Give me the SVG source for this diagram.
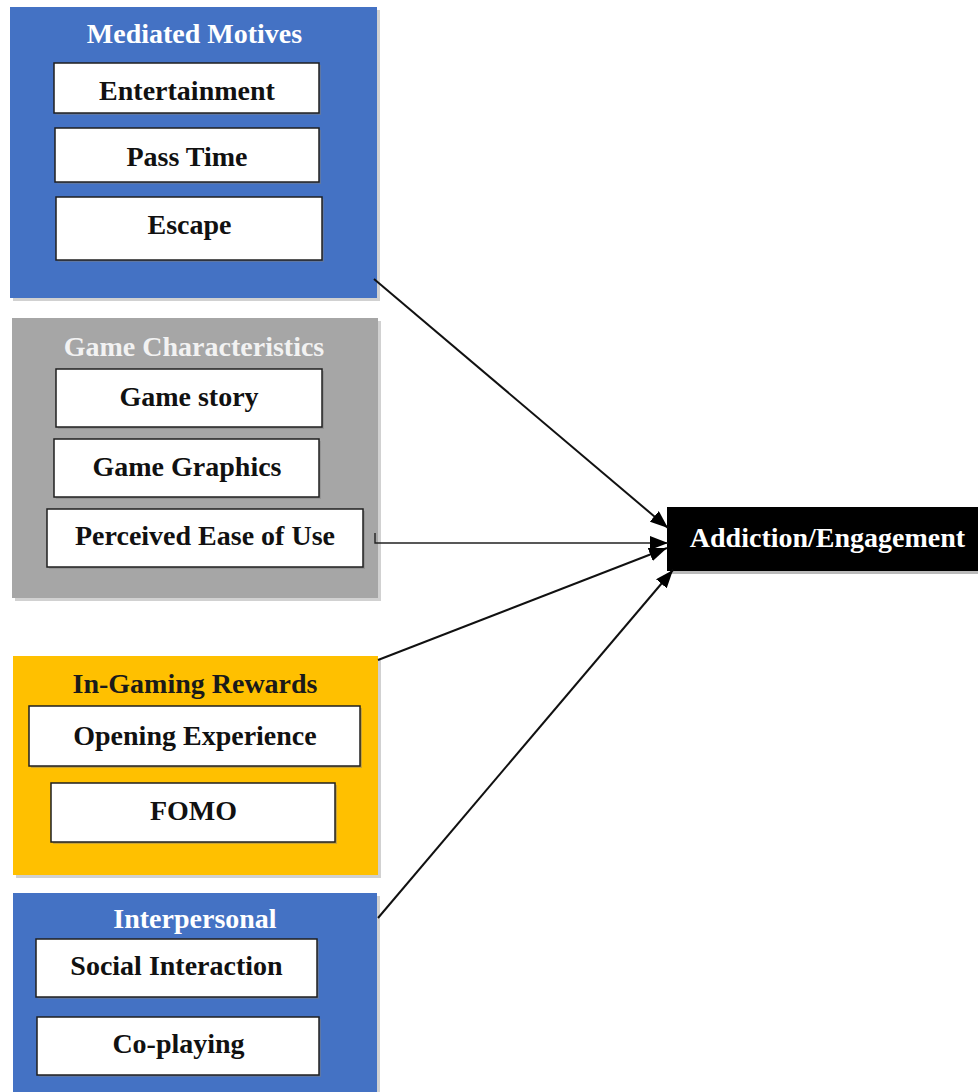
<svg xmlns="http://www.w3.org/2000/svg" width="978" height="1092" viewBox="0 0 978 1092">
  <style>
    text { font-family: "Liberation Serif", "Times New Roman", serif; font-weight: bold; font-size: 28px; text-anchor: middle; }
    .title-light { fill: #ffffff; }
    .title-grey { fill: #f2f2f2; }
    .title-dark { fill: #1a1a1a; }
    .label { fill: #111111; }
    .item { fill: #ffffff; stroke: #1f1f1f; stroke-width: 1.5; }
    .item-shadow { fill: #7f7f7f; opacity: 0.45; }
    .panel-shadow { fill: #9a9a9a; opacity: 0.45; }
    .blue { fill: #4472c4; }
    .grey { fill: #a6a6a6; }
    .gold { fill: #ffc000; }
    .link { fill: none; stroke: #111111; stroke-width: 2; }
    .link-thin { fill: none; stroke: #222222; stroke-width: 1.4; }
  </style>
  <defs>
    <marker id="arrow" viewBox="0 0 18 14" refX="18" refY="7" markerWidth="18" markerHeight="14" markerUnits="userSpaceOnUse" orient="auto">
      <path d="M0,0 L18,7 L0,14 Z" fill="#000000"/>
    </marker>
  </defs>

  <rect width="978" height="1092" fill="#ffffff"/>

  <!-- Mediated Motives -->
  <g id="mediated-motives">
    <rect class="panel-shadow" x="13" y="10" width="367" height="291"/>
    <rect class="blue" x="10" y="7" width="367" height="291"/>
    <text class="title-light" x="194.5" y="43">Mediated Motives</text>
    <g id="entertainment">
      <rect class="item-shadow" x="56" y="65" width="265" height="50"/>
      <rect class="item" x="54" y="63" width="265" height="50"/>
      <text class="label" x="187" y="100">Entertainment</text>
    </g>
    <g id="pass-time">
      <rect class="item-shadow" x="57" y="130" width="264" height="54"/>
      <rect class="item" x="55" y="128" width="264" height="54"/>
      <text class="label" x="187" y="166">Pass Time</text>
    </g>
    <g id="escape">
      <rect class="item-shadow" x="58" y="199" width="266" height="63"/>
      <rect class="item" x="56" y="197" width="266" height="63"/>
      <text class="label" x="189.5" y="234">Escape</text>
    </g>
  </g>

  <!-- Game Characteristics -->
  <g id="game-characteristics">
    <rect class="panel-shadow" x="15" y="321" width="366" height="280"/>
    <rect class="grey" x="12" y="318" width="366" height="280"/>
    <text class="title-grey" x="194" y="356">Game Characteristics</text>
    <g id="game-story">
      <rect class="item-shadow" x="58" y="371" width="266" height="58"/>
      <rect class="item" x="56" y="369" width="266" height="58"/>
      <text class="label" x="189" y="406">Game story</text>
    </g>
    <g id="game-graphics">
      <rect class="item-shadow" x="56" y="441" width="265" height="58"/>
      <rect class="item" x="54" y="439" width="265" height="58"/>
      <text class="label" x="187" y="476">Game Graphics</text>
    </g>
    <g id="perceived-ease-of-use">
      <rect class="item-shadow" x="49" y="511" width="316" height="58"/>
      <rect class="item" x="47" y="509" width="316" height="58"/>
      <text class="label" x="205" y="545">Perceived Ease of Use</text>
    </g>
  </g>

  <!-- In-Gaming Rewards -->
  <g id="in-gaming-rewards">
    <rect class="panel-shadow" x="16" y="659" width="365" height="219"/>
    <rect class="gold" x="13" y="656" width="365" height="219"/>
    <text class="title-dark" x="195" y="693">In-Gaming Rewards</text>
    <g id="opening-experience">
      <rect class="item-shadow" x="31" y="708" width="331" height="60"/>
      <rect class="item" x="29" y="706" width="331" height="60"/>
      <text class="label" x="195" y="745">Opening Experience</text>
    </g>
    <g id="fomo">
      <rect class="item-shadow" x="53" y="785" width="284" height="59"/>
      <rect class="item" x="51" y="783" width="284" height="59"/>
      <text class="label" x="193.5" y="820">FOMO</text>
    </g>
  </g>

  <!-- Interpersonal -->
  <g id="interpersonal">
    <rect class="panel-shadow" x="16" y="896" width="364" height="199"/>
    <rect class="blue" x="13" y="893" width="364" height="199"/>
    <text class="title-light" x="195" y="928">Interpersonal</text>
    <g id="social-interaction">
      <rect class="item-shadow" x="38" y="941" width="281" height="58"/>
      <rect class="item" x="36" y="939" width="281" height="58"/>
      <text class="label" x="176.5" y="975">Social Interaction</text>
    </g>
    <g id="co-playing">
      <rect class="item-shadow" x="39" y="1019" width="282" height="58"/>
      <rect class="item" x="37" y="1017" width="282" height="58"/>
      <text class="label" x="178.5" y="1053">Co-playing</text>
    </g>
  </g>

  <!-- Outcome -->
  <g id="addiction-engagement">
    <rect fill="#8c8c8c" opacity="0.6" x="670" y="510" width="308" height="64"/>
    <rect fill="#000000" x="667" y="507" width="311" height="64"/>
    <text class="title-light" x="827.5" y="547">Addiction/Engagement</text>
  </g>

  <!-- Connectors -->
  <g id="connectors">
    <line class="link" x1="374" y1="279" x2="668" y2="528" marker-end="url(#arrow)"/>
    <path class="link-thin" d="M375,533 V543 H668" marker-end="url(#arrow)"/>
    <line class="link" x1="378" y1="660" x2="667" y2="548" marker-end="url(#arrow)"/>
    <line class="link" x1="378" y1="918" x2="673" y2="570" marker-end="url(#arrow)"/>
  </g>
</svg>
